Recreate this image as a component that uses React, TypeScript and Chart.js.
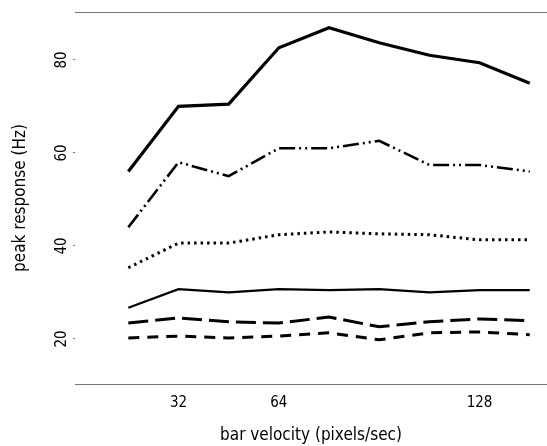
import React, { useEffect, useRef } from "react";
import { Chart, registerables } from "chart.js";

Chart.register(...registerables);

const velocities = [16, 32, 48, 64, 80, 96, 112, 128, 144];
const seriesSolidThick = [56, 70, 70.5, 82.6, 86.9, 83.7, 81, 79.4, 75];
const seriesDashDot = [44, 58, 55, 61, 61, 62.6, 57.4, 57.4, 56];
const seriesDotted = [35.3, 40.6, 40.6, 42.4, 43, 42.6, 42.4, 41.3, 41.3];
const seriesSolidThin = [26.7, 30.7, 30, 30.7, 30.5, 30.7, 30, 30.5, 30.5];
const seriesLongDash = [23.4, 24.5, 23.7, 23.4, 24.7, 22.6, 23.7, 24.3, 23.9];
const seriesShortDash = [20.2, 20.6, 20.2, 20.6, 21.3, 19.8, 21.3, 21.5, 20.9];

const xTicks = [32, 64, 128];
const yTicks = [20, 40, 60, 80];

const FONT = "'Liberation Sans Narrow', 'DejaVu Sans Condensed', 'Liberation Sans', Arial, sans-serif";

const toPoints = (vals: number[]) => velocities.map((v, i) => ({ x: v, y: vals[i] }));

const yLabelPlugin = {
  id: "yLabels",
  afterDraw(chart: any) {
    const y = chart.scales.y;
    const ctx = chart.ctx;
    ctx.save();
    ctx.fillStyle = "#000";
    ctx.font = `15px ${FONT}`;
    ctx.textAlign = "center";
    ctx.textBaseline = "middle";
    for (const t of y.ticks) {
      const py = y.getPixelForValue(t.value);
      ctx.save();
      ctx.translate(62, py);
      ctx.rotate(-Math.PI / 2);
      ctx.fillText(String(t.value), 0, 0);
      ctx.restore();
    }
    ctx.restore();
  },
};

export default function App() {
  const ref = useRef<HTMLCanvasElement>(null);
  useEffect(() => {
    if (!ref.current) return;
    const mk = (data: number[], width: number, dash: number[], cap: any = "butt") => ({
      data: toPoints(data),
      borderColor: "#000",
      borderWidth: width,
      borderDash: dash,
      borderCapStyle: cap,
      pointRadius: 0,
      tension: 0,
      fill: false,
    });
    const chart = new Chart(ref.current, {
      type: "line",
      data: {
        datasets: [
          mk(seriesSolidThick, 3.2, []),
          mk(seriesDashDot, 2.6, [16, 4, 2, 4, 2, 4]),
          mk(seriesDotted, 3, [2.5, 4]),
          mk(seriesSolidThin, 2.2, []),
          mk(seriesLongDash, 3, [20, 7]),
          mk(seriesShortDash, 3, [11, 8]),
        ] as any,
      },
      options: {
        responsive: false,
        animation: false,
        layout: { padding: { top: 12, left: 0, right: 0, bottom: 0 } },
        plugins: { legend: { display: false }, tooltip: { enabled: false } },
        scales: {
          x: {
            type: "linear",
            position: "bottom",
            min: -1,
            max: 149.5,
            afterBuildTicks: (s: any) => {
              s.ticks = xTicks.map((v) => ({ value: v }));
            },
            afterFit: (s: any) => {
              s.height = 62;
            },
            grid: { display: false },
            border: { display: true, color: "#777", width: 1, dash: [2, 1] },
            ticks: {
              color: "#000",
              font: { family: FONT, size: 15 },
              padding: 2,
              maxRotation: 0,
            },
            title: {
              display: true,
              text: "bar velocity (pixels/sec)",
              color: "#000",
              font: { family: FONT, size: 17 },
              padding: { top: 0, bottom: 0 },
            },
          },
          xTop: {
            type: "linear",
            position: "top",
            min: -1,
            max: 149.5,
            afterFit: (s: any) => {
              s.height = 0;
            },
            grid: { display: false },
            border: { display: true, color: "#777", width: 1, dash: [2, 1] },
            ticks: { display: false },
          },
          y: {
            type: "linear",
            min: 10.3,
            max: 90.3,
            afterBuildTicks: (s: any) => {
              s.ticks = yTicks.map((v) => ({ value: v }));
            },
            afterFit: (s: any) => {
              s.width = 75;
            },
            border: { display: false },
            grid: {
              drawOnChartArea: false,
              drawTicks: true,
              tickLength: 2,
              color: "#777",
            },
            ticks: { display: false },
            title: {
              display: true,
              text: "peak response (Hz)",
              color: "#000",
              font: { family: FONT, size: 17 },
              padding: { top: 10, bottom: 0 },
            },
          },
        },
      } as any,
      plugins: [yLabelPlugin],
    });
    return () => chart.destroy();
  }, []);
  return (
    <div style={{ position: "fixed", left: 0, top: 0, width: 547, height: 446, background: "#fff" }}>
      <canvas ref={ref} width={547} height={446} style={{ display: "block" }} />
    </div>
  );
}
